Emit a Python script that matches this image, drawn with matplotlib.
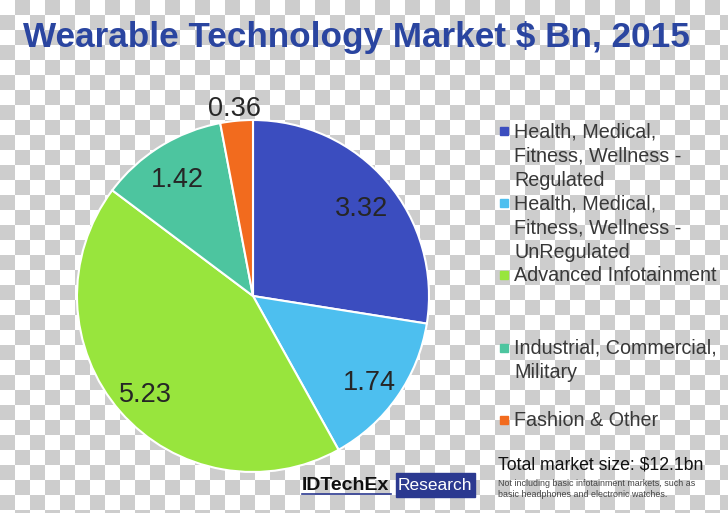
import matplotlib
matplotlib.use('Agg')
import matplotlib.pyplot as plt
import numpy as np
from matplotlib.colors import ListedColormap
from matplotlib.patches import Rectangle

plt.rcParams['font.family'] = ['Liberation Sans', 'DejaVu Sans']

# data
title = 'Wearable Technology Market $ Bn, 2015'
segments = ['Health, Medical,\nFitness, Wellness -\nRegulated',
            'Health, Medical,\nFitness, Wellness -\nUnRegulated',
            'Advanced Infotainment',
            'Industrial, Commercial,\nMilitary',
            'Fashion & Other']
values = [3.32, 1.74, 5.23, 1.42, 0.36]
colors = ['#3B4DBF', '#4DBFEF', '#98E53D', '#4DC59F', '#F26B1E']
total_text = 'Total market size: $12.1bn'
note_text = 'Not including basic infotainment markets, such as\nbasic headphones and electronic watches.'

W, H = 728, 513
fig = plt.figure(figsize=(W / 100, H / 100), dpi=100)

# transparent-look checkerboard behind everything
bg = fig.add_axes([0, 0, 1, 1])
cell = 15
yy, xx = np.mgrid[0:H, 0:W]
board = (xx // cell + yy // cell) % 2
bg.imshow(board, cmap=ListedColormap(['white', '#cdcdcd']), aspect='auto', interpolation='nearest')
bg.set_axis_off()

# pie, center / radius in pixels from top-left
cx, cy, r = 253, 296, 176
ax = fig.add_axes([(cx - r) / W, (H - cy - r) / H, 2 * r / W, 2 * r / H])
wedges, _ = ax.pie(values, colors=colors, startangle=90, counterclock=False,
                   wedgeprops=dict(edgecolor='white', linewidth=1.5))
ax.set_xlim(-1, 1)
ax.set_ylim(-1, 1)
for w, v in zip(wedges, values):
    ang = np.deg2rad((w.theta1 + w.theta2) / 2)
    d = 1.1 if v < 1 else 0.81
    ax.text(d * np.cos(ang), d * np.sin(ang) - 0.03, f'{v:.2f}', ha='center', va='center',
            fontsize=19.5, color='#262626')

fig.text(356 / W, 1 - 37 / H, title, ha='center', va='center', fontsize=25.3,
         fontweight='bold', color='#2A45A0')

# legend, hand placed like the slide
legend_y = [131, 203, 275, 348, 420]
for lab, c, y in zip(segments, colors, legend_y):
    fig.add_artist(Rectangle((500 / W, 1 - (y + 4) / H), 8 / W, 8 / H,
                             transform=fig.transFigure, color=c))
    fig.text(514 / W, 1 - (y - 9) / H, lab, ha='left', va='top', fontsize=14.2,
             color='#383838', linespacing=1.36)

fig.text(498 / W, 1 - 465 / H, total_text, ha='left', va='center', fontsize=12.7, color='#111111')
fig.text(498 / W, 1 - 489 / H, note_text, ha='left', va='center', fontsize=6.4,
         color='#444444', linespacing=1.2)

# IDTechEx logo
fig.text(302 / W, 1 - 485 / H, 'IDTechEx', ha='left', va='center', fontsize=14,
         fontweight='bold', color='#111111')
fig.add_artist(plt.Line2D([302 / W, 391 / W], [1 - 494 / H, 1 - 494 / H],
                          transform=fig.transFigure, color='#2B3990', lw=1.2))
fig.add_artist(Rectangle((396 / W, 1 - 497 / H), 79 / W, 24 / H,
                         transform=fig.transFigure, color='#2B3990'))
fig.text(435 / W, 1 - 485 / H, 'Research', ha='center', va='center', fontsize=12.5,
         color='white')

fig.savefig('out.png', dpi=100)
